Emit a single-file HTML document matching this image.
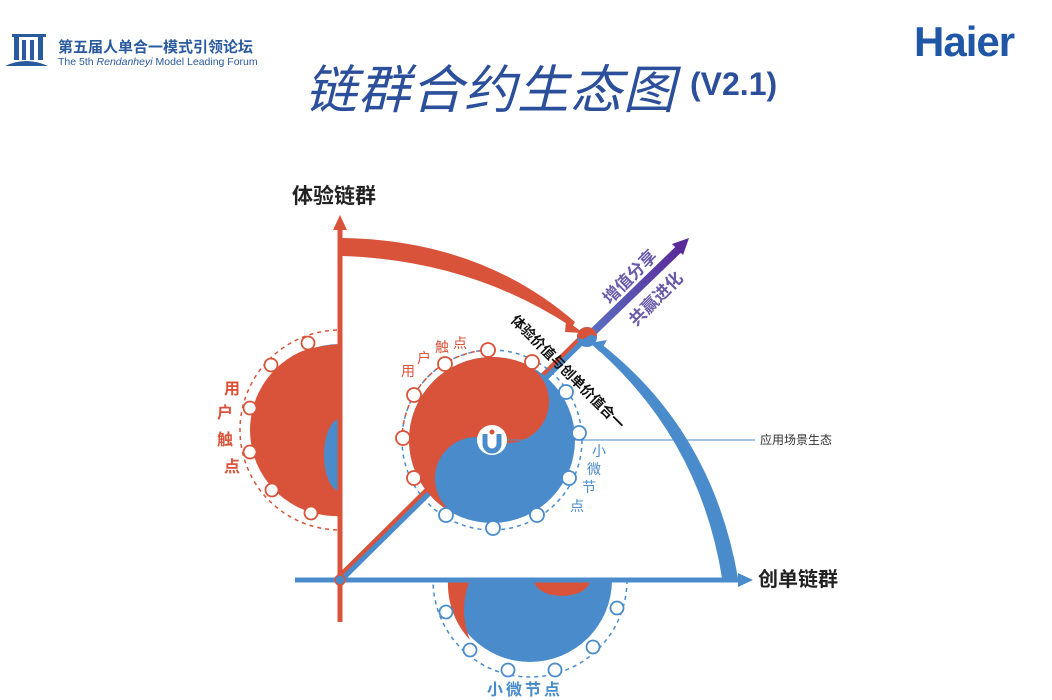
<!DOCTYPE html>
<html><head><meta charset="utf-8"><style>
html,body{margin:0;padding:0;background:#fff;width:1052px;height:700px;overflow:hidden}
svg{display:block}
text{font-family:"Liberation Sans","Noto Sans CJK SC",sans-serif}
</style></head><body>
<svg width="1052" height="700" viewBox="0 0 1052 700" xmlns="http://www.w3.org/2000/svg">
<defs>
<linearGradient id="pg" x1="0" y1="1" x2="1" y2="0"><stop offset="0" stop-color="#5a6fc0"/><stop offset="1" stop-color="#5a2a9a"/></linearGradient>
<clipPath id="cl"><rect x="200" y="300" width="140" height="250"/></clipPath>
<clipPath id="cb"><rect x="420" y="580" width="220" height="120"/></clipPath>
</defs>
<!-- top-left logo -->
<g fill="#2a5a9e">
<rect x="14" y="36" width="5" height="24"/><rect x="22" y="40" width="4" height="20"/><rect x="30" y="40" width="4" height="20"/><rect x="38" y="36" width="5" height="24"/>
<rect x="12" y="34" width="34" height="3"/>
<path d="M5 66 Q26 56 48 66 Z"/>
</g>
<text x="58" y="52" font-size="15" font-weight="bold" fill="#2a5a9e" font-family="'Noto Serif CJK SC',serif">第五届人单合一模式引领论坛</text>
<text x="58" y="65" font-size="10.5" fill="#2a5a9e">The 5th <tspan font-style="italic">Rendanheyi</tspan> Model Leading Forum</text>
<!-- Haier -->
<text x="914" y="56" font-size="42" font-weight="bold" fill="#1f56a6" letter-spacing="-1">Haier</text>
<!-- title -->
<text x="305" y="108" font-size="52" font-style="italic" fill="#2b4f9a" font-family="'Noto Serif CJK SC',serif" letter-spacing="1">链群合约生态图</text>
<text x="690" y="95" font-size="32" font-weight="bold" fill="#2b4f9a">(V2.1)</text>
<!-- axis labels -->
<text x="292" y="203" font-size="21" font-weight="bold" fill="#222">体验链群</text>
<text x="758" y="586" font-size="20" font-weight="bold" fill="#222">创单链群</text>

<!-- left half circle -->
<g clip-path="url(#cl)">
<circle cx="340" cy="430" r="100" fill="none" stroke="#d9533a" stroke-width="1.5" stroke-dasharray="4 4"/>
<circle cx="340" cy="430" r="86" fill="#4a8ccb"/>
<path d="M300 352 A86 86 0 0 0 340 516 L340 344 Q315 346 300 352Z" fill="#d9533a"/>
<ellipse cx="340" cy="455" rx="16" ry="36" fill="#4a8ccb"/>
</g>
<g fill="#fff" stroke="#d9533a" stroke-width="1.8">
<circle cx="308" cy="343" r="6.5"/><circle cx="271" cy="365" r="6.5"/><circle cx="250" cy="408" r="6.5"/><circle cx="250" cy="452" r="6.5"/><circle cx="272" cy="490" r="6.5"/><circle cx="311" cy="513" r="6.5"/>
</g>
<g font-size="16" font-weight="bold" fill="#d9533a"><text x="224" y="394">用</text><text x="217" y="418">户</text><text x="217" y="445">触</text><text x="224" y="472">点</text></g>

<!-- bottom half circle -->
<g clip-path="url(#cb)">
<circle cx="530" cy="580" r="97" fill="none" stroke="#4a8ccb" stroke-width="1.5" stroke-dasharray="4 4"/>
<circle cx="530" cy="580" r="82" fill="#4a8ccb"/>
<path d="M448 580 A82 82 0 0 0 470 640 Q458 610 470 580Z" fill="#d9533a"/>
<ellipse cx="562" cy="580" rx="28" ry="16" fill="#d9533a"/>
</g>
<g fill="#fff" stroke="#4a8ccb" stroke-width="1.8">
<circle cx="446" cy="612" r="6.5"/><circle cx="470" cy="650" r="6.5"/><circle cx="508" cy="670" r="6.5"/><circle cx="555" cy="670" r="6.5"/><circle cx="593" cy="647" r="6.5"/><circle cx="617" cy="608" r="6.5"/>
</g>
<text x="487" y="695" font-size="16" font-weight="bold" fill="#4a8ccb" letter-spacing="3">小微节点</text>

<!-- diagonal line -->
<line x1="340" y1="580" x2="585" y2="338" stroke="#4a8ccb" stroke-width="7"/>
<line x1="338" y1="577" x2="583" y2="335" stroke="#d9533a" stroke-width="4"/>

<!-- axes -->
<line x1="340" y1="622" x2="340" y2="228" stroke="#d9533a" stroke-width="5"/>
<path d="M333 230 L340 215 L347 230Z" fill="#d9533a"/>
<line x1="295" y1="580" x2="740" y2="580" stroke="#4a8ccb" stroke-width="5"/>
<path d="M738 573 L753 580 L738 587Z" fill="#4a8ccb"/>
<circle cx="340" cy="580" r="5" fill="#4a8ccb" stroke="#d9533a" stroke-width="1.5"/>

<!-- red arc -->
<path d="M342 238 Q480 240 575 322 L572 327 Q470 260 342 256Z" fill="#d9533a"/>
<path d="M566 320 L583 333 L565 332Z" fill="#d9533a"/>
<!-- blue arc -->
<path d="M596 348 Q700 440 722 578 L738 578 Q712 430 600 343Z" fill="#4a8ccb"/>
<path d="M590 343 L607 340 L600 352Z" fill="#4a8ccb"/>
<!-- purple arrow -->
<line x1="592" y1="333" x2="680" y2="248" stroke="url(#pg)" stroke-width="8"/>
<path d="M672 244 L689 238 L683 255Z" fill="#5a2a9a"/>
<!-- junction -->
<circle cx="587" cy="337" r="10" fill="#4a8ccb"/>
<path d="M577 337 A10 10 0 0 1 597 337 Q592 333 587 337 Q582 341 577 337Z" fill="#d9533a"/>

<!-- central yin-yang -->
<circle cx="492" cy="440" r="90" fill="none" stroke="#4a8ccb" stroke-width="1.5" stroke-dasharray="4 4"/>
<path d="M402 440 A90 90 0 0 1 492 350" fill="none" stroke="#d9533a" stroke-width="1.5" stroke-dasharray="4 4"/>
<g transform="translate(492,440) rotate(22)">
<circle r="83" fill="#4a8ccb"/>
<path d="M0 -83 A83 83 0 0 0 0 83 A41.5 41.5 0 0 1 0 0 A41.5 41.5 0 0 0 0 -83Z" fill="#d9533a"/>
</g>
<g fill="#fff" stroke-width="1.8">
<circle cx="488" cy="350" r="7" stroke="#d9533a"/><circle cx="532" cy="362" r="7" stroke="#d9533a"/><circle cx="566" cy="392" r="7" stroke="#4a8ccb"/><circle cx="579" cy="433" r="7" stroke="#4a8ccb"/><circle cx="569" cy="478" r="7" stroke="#4a8ccb"/><circle cx="537" cy="515" r="7" stroke="#4a8ccb"/><circle cx="493" cy="528" r="7" stroke="#4a8ccb"/><circle cx="446" cy="515" r="7" stroke="#4a8ccb"/><circle cx="414" cy="478" r="7" stroke="#d9533a"/><circle cx="403" cy="438" r="7" stroke="#d9533a"/><circle cx="414" cy="395" r="7" stroke="#d9533a"/><circle cx="445" cy="364" r="7" stroke="#d9533a"/>
</g>
<line x1="506" y1="440" x2="755" y2="440" stroke="#4a8ccb" stroke-width="1"/>
<circle cx="492" cy="440" r="15" fill="#fff"/>
<path d="M485 434 L485 444 A7 7 0 0 0 499 444 L499 434" fill="none" stroke="#4a8ccb" stroke-width="5"/>
<circle cx="492" cy="432" r="2.5" fill="#d9533a"/>
<text x="760" y="444" font-size="12" fill="#333">应用场景生态</text>

<g font-size="14" fill="#d9533a"><text x="401" y="376">用</text><text x="417" y="363">户</text><text x="435" y="352">触</text><text x="453" y="348">点</text></g>
<g font-size="14" fill="#4a8ccb"><text x="592" y="456">小</text><text x="587" y="474">微</text><text x="582" y="492">节</text><text x="570" y="511">点</text></g>

<text transform="translate(510,321) rotate(45)" font-size="14" font-weight="bold" fill="#111">体验价值与创单价值合一</text>
<text transform="translate(610,305) rotate(-45)" font-size="17" font-weight="bold" fill="#6a5aaa">增值分享</text>
<text transform="translate(636,327) rotate(-45)" font-size="17" font-weight="bold" fill="#6a5aaa">共赢进化</text>
</svg>
</body></html>
